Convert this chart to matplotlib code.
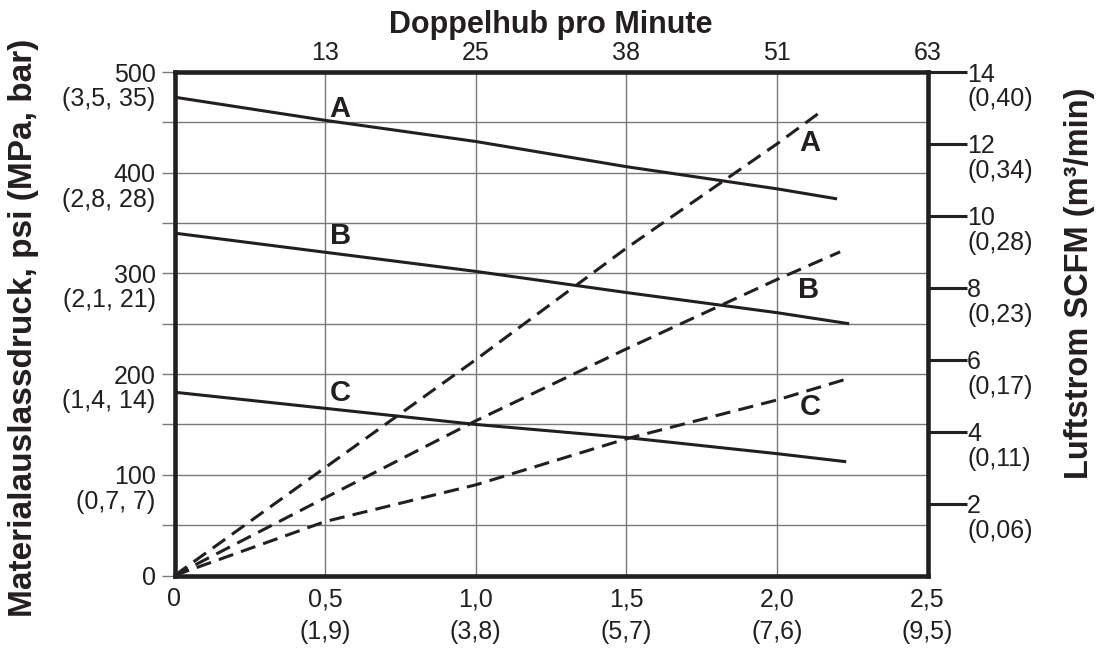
import matplotlib.pyplot as plt
from matplotlib.ticker import MultipleLocator, FixedLocator

plt.rcParams['font.family'] = ['Liberation Sans', 'DejaVu Sans']

INK = '#231f20'

# bottom axis: fluid flow gpm (lpm)
x_ticks = [0, 0.5, 1.0, 1.5, 2.0, 2.5]
x_labels = ['0', '0,5', '1,0', '1,5', '2,0', '2,5']
x_sub = ['', '(1,9)', '(3,8)', '(5,7)', '(7,6)', '(9,5)']
# top axis: cycles per minute
top_labels = ['13', '25', '38', '51', '63']

# left axis: fluid outlet pressure psi (MPa, bar)
p_ticks = [0, 100, 200, 300, 400, 500]
p_sub = ['', '(0,7, 7)', '(1,4, 14)', '(2,1, 21)', '(2,8, 28)', '(3,5, 35)']
# right axis: air flow scfm (m3/min)
a_ticks = [2, 4, 6, 8, 10, 12, 14]
a_sub = ['(0,06)', '(0,11)', '(0,17)', '(0,23)', '(0,28)', '(0,34)', '(0,40)']

# pressure curves (solid)
press_xA = [0, 0.5, 1.0, 1.5, 2.0, 2.2]
press_A = [475, 452, 431, 406, 384, 374]
press_xB = [0, 0.5, 1.0, 1.5, 2.0, 2.24]
press_B = [340, 321, 302, 281, 261, 250]
press_xC = [0, 0.5, 1.0, 1.5, 2.0, 2.23]
press_C = [182, 166, 150, 137, 121, 113]

# air consumption curves (dashed)
air_xA = [0, 0.5, 1.0, 1.5, 2.0, 2.14]
air_A = [0, 3.0, 6.0, 9.1, 12.0, 12.86]
air_xB = [0, 0.5, 1.0, 1.5, 2.0, 2.21]
air_B = [0, 2.16, 4.3, 6.3, 8.23, 9.0]
air_xC = [0, 0.5, 1.0, 1.5, 2.0, 2.23]
air_C = [0, 1.5, 2.52, 3.8, 4.88, 5.46]

fig = plt.figure(figsize=(11.02, 6.5), dpi=100)
ax = fig.add_axes([174.5 / 1102, 1 - 575.5 / 650, 753 / 1102, 503.5 / 650])
ax2 = ax.twinx()

ax.set_xlim(0, 2.5)
ax.set_ylim(0, 500)
ax2.set_ylim(0, 14)

# grid
ax.set_xticks(x_ticks)
ax.set_xticklabels(x_labels)
ax.xaxis.set_minor_locator(FixedLocator([2.5]))
ax.set_yticks(p_ticks)
ax.set_yticklabels([str(v) for v in p_ticks])
ax.yaxis.set_minor_locator(MultipleLocator(50))
ax.grid(True, which='major', axis='x', color='#7a7a7a', lw=1)
ax.grid(True, which='both', axis='y', color='#7a7a7a', lw=1)
ax.set_axisbelow(True)

ax.tick_params(axis='x', which='major', length=0, pad=8.5, labelsize=18, colors=INK)
ax.tick_params(axis='x', which='minor', length=10, width=3.2, color=INK)
ax.tick_params(axis='y', which='both', length=9.5, width=1, color='#7a7a7a', pad=4,
               labelsize=18, labelcolor=INK)

for s in ax.spines.values():
    s.set_linewidth(3.3)
    s.set_color(INK)
for s in ax2.spines.values():
    s.set_visible(False)

ax2.set_yticks(a_ticks)
ax2.set_yticklabels([str(v) for v in a_ticks])
ax2.tick_params(axis='y', length=28, width=2.2, color=INK, pad=0.5, labelsize=18, labelcolor=INK)

# second lines of tick labels
for xv, t in zip(x_ticks, x_sub):
    if t:
        ax.annotate(t, (xv, 0), xycoords=('data', 'axes fraction'), xytext=(0, -41),
                    textcoords='offset points', ha='center', va='center', fontsize=18, color=INK)
for yv, t in zip(p_ticks, p_sub):
    if t:
        ax.annotate(t, (0, yv), xycoords=('axes fraction', 'data'), xytext=(-13.5, -19.5),
                    textcoords='offset points', ha='right', va='center', fontsize=18, color=INK)
for yv, t in zip(a_ticks, a_sub):
    ax2.annotate(t, (1, yv), xycoords=('axes fraction', 'data'), xytext=(29, -19.5),
                 textcoords='offset points', ha='left', va='center', fontsize=18, color=INK)

# top axis
top = ax.secondary_xaxis('top')
top.set_xticks(x_ticks[1:])
top.set_xticklabels(top_labels)
top.tick_params(length=0, pad=5, labelsize=18, colors=INK)
top.spines['top'].set_visible(False)
top.set_xlabel('Doppelhub pro Minute', fontsize=22, fontweight='bold', color=INK)
top.xaxis.set_label_coords(0.5, 1.093, transform=ax.transAxes)
top.xaxis.label.set_va('center')

ax.set_ylabel('Materialauslassdruck, psi (MPa, bar)', fontsize=24, fontweight='bold', color=INK)
ax.yaxis.set_label_coords(-0.2, 0.4916)
ax.yaxis.label.set_va('center')
ax2.set_ylabel('Luftstrom SCFM (m³/min)', fontsize=23.5, fontweight='bold', color=INK)
ax2.yaxis.set_label_coords(1.2025, 0.581)
ax2.yaxis.label.set_va('center')

# curves
for xs, ys in [(press_xA, press_A), (press_xB, press_B), (press_xC, press_C)]:
    ax.plot(xs, ys, color=INK, lw=2.2, solid_capstyle='butt')
for xs, ys in [(air_xA, air_A), (air_xB, air_B), (air_xC, air_C)]:
    ax2.plot(xs, ys, color=INK, lw=2.2, linestyle=(0, (5, 2.7)), dash_capstyle='butt')

# curve letters
for x, y, s in [(0.55, 463, 'A'), (0.55, 337, 'B'), (0.55, 181, 'C'),
                (2.11, 429, 'A'), (2.105, 284, 'B'), (2.11, 167, 'C')]:
    ax.text(x, y, s, fontsize=21, fontweight='bold', ha='center', va='center', color=INK)

fig.savefig('out.png', dpi=100)
